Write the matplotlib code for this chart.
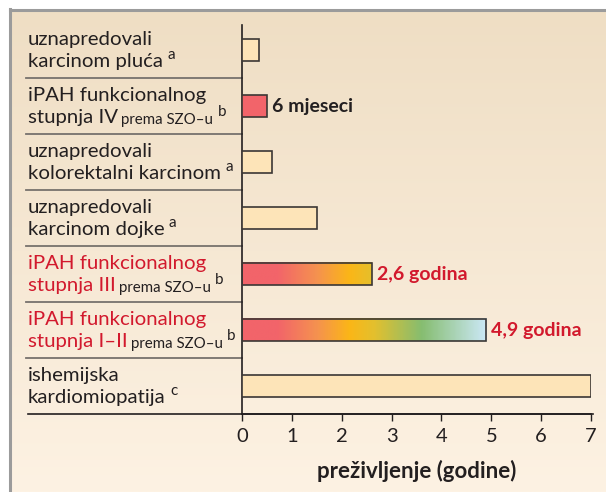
import numpy as np
import matplotlib.pyplot as plt
from matplotlib.colors import LinearSegmentedColormap, Normalize
from matplotlib.lines import Line2D
from matplotlib.patches import Rectangle
from matplotlib.transforms import blended_transform_factory

# categories, top to bottom
line1 = ["uznapredovali", "iPAH funkcionalnog", "uznapredovali", "uznapredovali",
         "iPAH funkcionalnog", "iPAH funkcionalnog", "ishemijska"]
line2 = ["karcinom pluća", "stupnja IV", "kolorektalni karcinom", "karcinom dojke",
         "stupnja III", "stupnja I–II", "kardiomiopatija"]
qualifier = ["", "prema SZO–u", "", "", "prema SZO–u", "prema SZO–u", ""]
footnote = ["a", "b", "a", "a", "b", "b", "c"]
is_ipah_red = [False, False, False, False, True, True, False]

survival = [0.35, 0.5, 0.6, 1.5, 2.6, 4.9, 7.0]
value_labels = ["", "6 mjeseci", "", "", "2,6 godina", "4,9 godina", ""]
bar_style = ["plain", "red", "plain", "plain", "gradient", "gradient", "plain"]

xticks = [0, 1, 2, 3, 4, 5, 6, 7]

DARK = "#231f20"
RED = "#d2192d"
PLAIN = "#fde4b8"
BAR_RED = "#f2646a"
FONT = "Lato"

plt.rcParams["font.family"] = [FONT, "DejaVu Sans"]

W, H = 606, 492
fig = plt.figure(figsize=(W / 100, H / 100), dpi=100)
fig.patch.set_facecolor("white")

# panel background gradient
bg = fig.add_axes([10 / W, 0, (W - 10) / W, (H - 10) / H], zorder=-10)
top_c = np.array([239, 222, 196]) / 255
bot_c = np.array([253, 242, 227]) / 255
t = np.linspace(0, 1, 200)[:, None]
grad = top_c[None, None, :] * (1 - t[..., None]) + bot_c[None, None, :] * t[..., None]
bg.imshow(np.repeat(grad, 2, axis=1), aspect="auto", extent=[0, 1, 0, 1])
bg.axis("off")

# gray frame (top and left)
fig.add_artist(Line2D([9.5 / W, 1], [1 - 10 / H, 1 - 10 / H], color="#9b9b9b", lw=2.2))
fig.add_artist(Line2D([10 / W, 10 / W], [0, 1 - 9 / H], color="#9b9b9b", lw=2.2))

ax = fig.add_axes([242 / W, (H - 414) / H, 349 / W, (414 - 25) / H])
ax.patch.set_alpha(0)
n = len(survival)
ypos = np.arange(n)[::-1]
ax.set_xlim(0, 7)
ax.set_ylim(-0.5, 6.45)

bh = 0.4
cmap = LinearSegmentedColormap.from_list(
    "ipah",
    [(0.0, "#f2646a"), (0.7 / 4.9, "#f2646a"), (1.5 / 4.9, "#f5924f"),
     (2.15 / 4.9, "#fbb617"), (2.65 / 4.9, "#e3c02e"), (3.6 / 4.9, "#86bd70"),
     (1.0, "#cbe8f6")])
norm = Normalize(0, 4.9)

for y, v, style in zip(ypos, survival, bar_style):
    if style == "gradient":
        xs = np.linspace(0, v, 300)[None, :]
        ax.imshow(cmap(norm(xs)), extent=[0, v, y - bh / 2, y + bh / 2],
                  aspect="auto", interpolation="bilinear", zorder=2)
        ax.add_patch(Rectangle((0, y - bh / 2), v, bh, fill=False,
                               ec="#3b3735", lw=1.2, zorder=3))
    else:
        fc = BAR_RED if style == "red" else PLAIN
        ax.barh(y, v, height=bh, color=fc, edgecolor="#3b3735", lw=1.2, zorder=3)

for y, v, lab, red in zip(ypos, survival, value_labels, is_ipah_red):
    if lab:
        ax.text(v + 0.1, y, lab, ha="left", va="center", fontsize=14,
                fontweight="bold", color=RED if red else DARK)

ax.set_aspect("auto")
ax.set_xticks(xticks)
ax.set_xticklabels([str(x) for x in xticks])
ax.set_yticks([])
ax.tick_params(axis="x", direction="out", length=5, width=1, color=DARK,
               labelsize=14.5, labelcolor=DARK, pad=5)
for s in ["top", "right"]:
    ax.spines[s].set_visible(False)
ax.spines["left"].set_color(DARK)
ax.spines["bottom"].set_color(DARK)
ax.spines["left"].set_linewidth(1.2)
ax.spines["bottom"].set_linewidth(1.2)
ax.set_xlabel("preživljenje (godine)", fontsize=16, fontweight="bold",
              color=DARK, labelpad=11)

# x-axis line extends to the left under the labels
blend = blended_transform_factory(fig.transFigure, ax.transData)
blend_ax = blended_transform_factory(fig.transFigure, ax.transAxes)
ax.add_artist(Line2D([28 / W, 593 / W], [0, 0], transform=blend_ax,
                     color=DARK, lw=1.2, clip_on=False))

# row dividers
for b in np.arange(n - 1) + 0.5:
    ax.add_artist(Line2D([26 / W, 242 / W], [b, b], transform=blend,
                         color="#77726d", lw=1.3, clip_on=False))

# category labels
px = 1 / 56.0
for y, l1, l2, q, fn, red in zip(ypos, line1, line2, qualifier, footnote, is_ipah_red):
    col = RED if red else DARK
    ax.text(28 / W, y + 5 * px, l1, transform=blend, ha="left", va="baseline",
            fontsize=14.7, color=col, clip_on=False)
    t2 = ax.text(28 / W, y - 17 * px, l2, transform=blend, ha="left", va="baseline",
                 fontsize=14.7, color=col, clip_on=False)
    prev = t2
    if q:
        prev = ax.annotate(q, xy=(1, 0), xycoords=t2, xytext=(2.5, -0.8),
                           textcoords="offset points", ha="left", va="bottom",
                           fontsize=10.8, color=DARK)
    ax.annotate(fn, xy=(1, 0), xycoords=prev, xytext=(3, 6),
                textcoords="offset points", ha="left", va="bottom",
                fontsize=11, color=DARK)

fig.savefig("out.png", dpi=100, facecolor="white")
